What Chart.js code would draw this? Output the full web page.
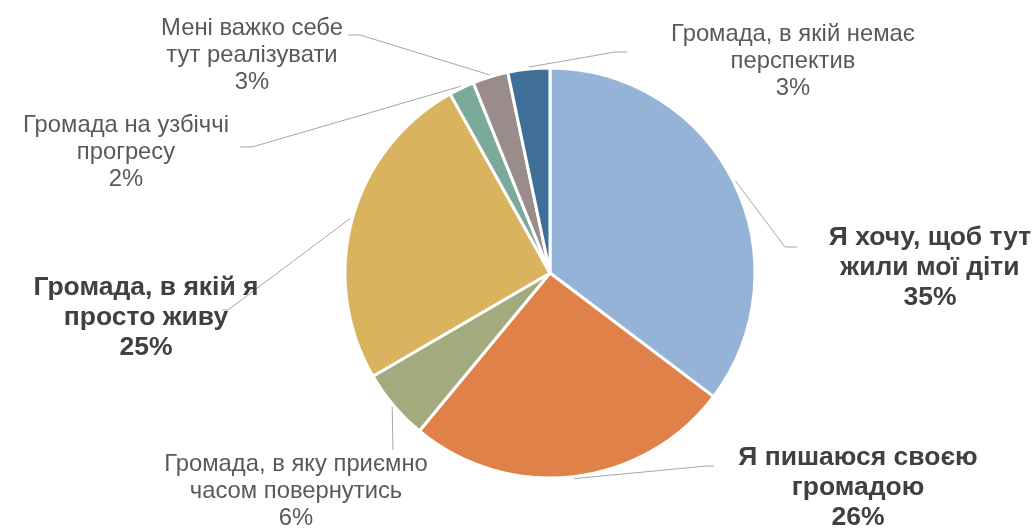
<!DOCTYPE html>
<html>
<head>
<meta charset="utf-8">
<script src="https://cdn.jsdelivr.net/npm/chart.js@4"></script>
<style>
    body { margin: 0; background: #ffffff; }
</style>
</head>
<body>
<canvas id="myPieChart" width="1036" height="528"></canvas>
<script>
// Slice labels (each line of the label is a separate string)
const labels = [
    ['Я хочу, щоб тут', 'жили мої діти'],
    ['Я пишаюся своєю', 'громадою'],
    ['Громада, в яку приємно', 'часом повернутись'],
    ['Громада, в якій я', 'просто живу'],
    ['Громада на узбіччі', 'прогресу'],
    ['Мені важко себе', 'тут реалізувати'],
    ['Громада, в якій немає', 'перспектив']
];

// Share of answers, %
const values = [35.3, 25.7, 5.6, 25.3, 2.0, 2.8, 3.3];

// Which labels are printed in bold
const boldLabels = [true, true, false, true, false, false, false];

const sliceColors = ['#95B3D7', '#DF8149', '#A3AB7E', '#D9B35E', '#7BA99A', '#9A8C8B', '#3F6F97'];

// Where each label sits and where its leader line bends (layout only)
const labelLayout = [
    { x: 930, y: 238, bend: [785, 247], end: [797, 247] },
    { x: 858, y: 458, bend: [707, 466], end: [714, 466] },
    { x: 296, y: 464, bend: [393, 450], end: [393, 450] },
    { x: 146, y: 288, bend: [228, 310], end: [222, 310] },
    { x: 126, y: 125, bend: [252, 147], end: [240, 147] },
    { x: 252, y: 28,  bend: [360, 35],  end: [348, 35] },
    { x: 793, y: 34,  bend: [615, 52],  end: [627, 52] }
];

const outsideLabels = {
    id: 'outsideLabels',
    afterDatasetsDraw(chart) {
        const ctx = chart.ctx;
        const meta = chart.getDatasetMeta(0);
        ctx.save();
        meta.data.forEach((arc, i) => {
            const lay = labelLayout[i];
            const mid = (arc.startAngle + arc.endAngle) / 2;
            const r = arc.outerRadius + 2;
            // leader line
            ctx.strokeStyle = '#A6A6A6';
            ctx.lineWidth = 1;
            ctx.beginPath();
            ctx.moveTo(arc.x + Math.cos(mid) * r, arc.y + Math.sin(mid) * r);
            ctx.lineTo(lay.bend[0], lay.bend[1]);
            ctx.lineTo(lay.end[0], lay.end[1]);
            ctx.stroke();

            // text
            const bold = boldLabels[i];
            const lines = labels[i].concat([Math.round(values[i]) + '%']);
            const lineHeight = bold ? 30 : 27;
            ctx.font = (bold ? 'bold 26.5px ' : '23.8px ') + '"Liberation Sans", Arial, sans-serif';
            ctx.fillStyle = bold ? '#404040' : '#595959';
            ctx.textAlign = 'center';
            ctx.textBaseline = 'middle';
            lines.forEach((line, k) => {
                ctx.fillText(line, lay.x, lay.y + k * lineHeight);
            });
        });
        ctx.restore();
    }
};

const config = {
    type: 'pie',
    data: {
        labels: labels,
        datasets: [{
            data: values,
            backgroundColor: sliceColors,
            borderColor: '#ffffff',
            borderWidth: 3
        }]
    },
    options: {
        responsive: false,
        animation: false,
        radius: 205,
        layout: {
            padding: { left: 64, right: 0, top: 18, bottom: 0 }
        },
        plugins: {
            legend: { display: false },
            tooltip: { enabled: false }
        }
    },
    plugins: [outsideLabels]
};

const myPieChart = new Chart(
    document.getElementById('myPieChart'),
    config
);
</script>
</body>
</html>
